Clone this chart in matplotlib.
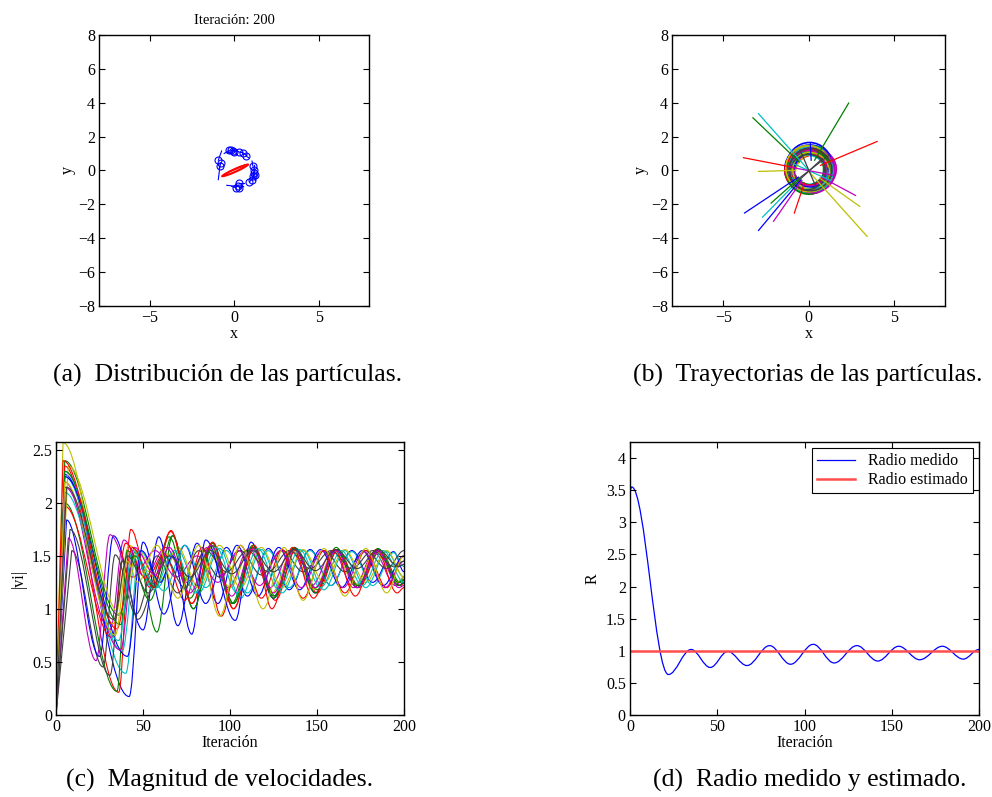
import matplotlib
matplotlib.use("Agg")
import matplotlib.pyplot as plt
from matplotlib.path import Path
from matplotlib.patches import PathPatch, Ellipse

plt.rcParams["font.family"] = ["Liberation Serif", "DejaVu Serif"]

# MATLAB default line colour order
COLORS = [(0, 0, 1), (0, 0.5, 0), (1, 0, 0), (0, 0.75, 0.75),
          (0.75, 0, 0.75), (0.75, 0.75, 0), (0.25, 0.25, 0.25)]

# ---- (a) particle positions at iteration 200 ----
part_x = [-0.95, -0.85, -0.30, -0.20, -0.10, 0.30, 0.50, 0.70, 1.10, 1.15, 1.15,
          1.12, 1.05, 0.90, 0.25, 0.10, 0.30, 0.20, -0.80, 1.20, 0.00]
part_y = [0.60, 0.25, 1.18, 1.20, 1.17, 1.08, 1.00, 0.85, 0.25, 0.05, -0.15,
          -0.35, -0.55, -0.68, -0.75, -1.02, -1.05, -0.95, 0.45, -0.25, 1.10]
tail_x = [-0.75, -0.95, -0.60, 0.10, 0.25, 0.50, 0.75, 0.85, 1.05, 1.20, 1.20,
          1.18, 1.15, 1.05, 0.60, -0.15, 0.55, -0.45, -0.90, 1.25, -0.45]
tail_y = [1.15, -0.55, 1.00, 1.15, 1.12, 1.05, 0.90, 0.75, 0.55, 0.30, 0.10,
          -0.05, -0.30, -0.50, -0.75, -0.95, -0.95, -0.88, 0.10, -0.60, 1.05]
# red estimate: elongated loops (center x, center y, length, width, angle)
est_cx = [0.05, 0.08, 0.00]
est_cy = [0.00, 0.02, -0.03]
est_len = [1.75, 1.60, 1.50]
est_wid = [0.22, 0.14, 0.10]
est_ang = [24, 25, 23]

# ---- (b) trajectories: start point, end of the straight run, two orbit loops ----
start_x = [-3.76, 2.35, 4.02, -2.94, 2.75, 3.43, 1.20, -2.94, -3.27, -3.82, -2.70,
           -2.06, -2.94, -1.00, 0.10, -2.20, -0.84, 1.30, 1.50, 3.00, -0.50]
start_y = [-2.52, 3.98, 1.71, 3.35, -1.48, -3.90, 0.90, -3.55, 3.11, 0.75, -2.76,
           -3.01, -0.06, -1.00, 1.58, -1.93, -2.52, -0.60, -0.30, -2.13, 1.20]
turn_x = [-0.60, 0.35, 0.70, 0.10, 0.75, 0.00, -0.60, -0.45, -0.55, -0.75, -0.50,
          -0.40, -0.80, 0.80, 0.15, -0.55, -0.25, -0.90, -1.10, 0.65, 0.40]
turn_y = [-0.40, 0.60, 0.30, -0.10, -0.40, -0.05, -0.50, -0.55, 0.50, 0.15, -0.50,
          -0.60, 0.00, 0.70, 0.60, -0.45, -0.75, 0.40, 0.20, -0.45, -0.90]
orb_cx = [0.05, 0.10, 0.00, 0.15, 0.20, 0.05, 0.10, -0.05, 0.15, 0.00, 0.10,
          0.25, 0.05, 0.10, 0.05, 0.00, 0.10, 0.15, 0.20, 0.00, 0.10]
orb_cy = [0.10, -0.05, 0.00, 0.10, -0.05, 0.05, 0.00, -0.05, 0.15, 0.05, 0.00,
          0.05, 0.10, 0.00, 0.20, -0.10, 0.00, 0.05, 0.00, 0.10, 0.05]
orb_w = [2.90, 2.60, 2.70, 2.65, 2.80, 2.75, 2.50, 2.55, 2.60, 2.80, 2.70,
         2.75, 2.50, 2.40, 2.70, 2.60, 2.85, 2.60, 2.70, 2.65, 2.50]
orb_h = [2.80, 2.65, 2.50, 2.70, 2.55, 2.60, 2.40, 2.70, 2.55, 2.65, 2.75,
         2.50, 2.60, 2.45, 2.90, 2.60, 2.55, 2.70, 2.60, 2.75, 2.50]
orb_ang = [10, -20, 30, 0, 45, -35, 15, 60, -10, 20, -45, 5, 35, -25, 0, 50, -15, 25, -40, 30, 10]
orb2_cx = [-0.10, 0.25, 0.15, -0.05, 0.05, 0.20, -0.05, 0.10, -0.10, 0.20, -0.05,
           0.10, 0.25, -0.10, 0.15, 0.20, -0.05, 0.00, 0.05, 0.15, -0.05]
orb2_cy = [-0.10, 0.15, -0.15, 0.00, 0.15, -0.10, 0.15, 0.10, -0.05, -0.10, 0.15,
           -0.10, -0.05, 0.15, 0.05, 0.10, 0.15, -0.10, 0.15, -0.05, -0.10]
orb2_w = [2.00, 2.30, 1.90, 2.20, 1.95, 2.45, 2.15, 1.90, 2.25, 1.95, 2.05,
          1.90, 2.20, 2.10, 1.95, 2.20, 2.00, 2.25, 1.90, 2.30, 2.15]
orb2_h = [2.15, 1.95, 2.20, 2.00, 2.25, 2.20, 2.00, 2.15, 1.90, 2.20, 1.95,
          2.20, 1.95, 2.05, 2.10, 1.90, 2.20, 1.95, 2.15, 2.10, 2.05]
orb2_ang = [-30, 40, -5, 55, -20, 15, -50, 25, 70, -60, 10, -15, 50, 30, -40, -5, 65, -30, 20, -55, 40]

# ---- (c) speed magnitude, extrema read per particle (iteration, |vi|) ----
speed_t = [
    [0, 5, 42, 50, 62, 74, 86, 98, 110, 122, 134, 146, 158, 170, 182, 194, 200],
    [0, 5, 36, 46, 58, 67, 79, 90, 102, 114, 126, 138, 150, 162, 174, 186, 198, 200],
    [0, 5, 36, 43, 54, 66, 78, 90, 102, 114, 126, 138, 150, 162, 174, 186, 198, 200],
    [0, 5, 40, 48, 62, 74, 86, 98, 110, 122, 134, 146, 158, 170, 182, 194, 200],
    [0, 5, 31, 39, 51, 63, 75, 87, 99, 111, 123, 135, 147, 159, 171, 183, 195, 200],
    [0, 4, 33, 42, 54, 64, 76, 88, 100, 112, 124, 136, 148, 160, 172, 184, 196, 200],
    [0, 9, 27, 34, 46, 58, 70, 82, 94, 106, 118, 130, 142, 154, 166, 178, 190, 200],
    [0, 6, 25, 33, 50, 59, 70, 81, 93, 104, 116, 128, 140, 152, 164, 176, 188, 200],
    [0, 5, 35, 41, 54, 65, 77, 89, 101, 113, 125, 137, 149, 161, 173, 185, 197, 200],
    [0, 5, 32, 40, 52, 62, 74, 84, 95, 106, 118, 130, 142, 154, 166, 178, 190, 200],
    [0, 5, 38, 46, 58, 70, 82, 94, 106, 118, 130, 142, 154, 166, 178, 190, 200],
    [0, 7, 23, 31, 44, 57, 69, 81, 93, 105, 117, 129, 141, 153, 165, 177, 189, 200],
    [0, 7, 37, 47, 59, 70, 82, 94, 106, 118, 130, 142, 154, 166, 178, 190, 200],
    [0, 8, 31, 38, 47, 62, 74, 86, 98, 110, 122, 134, 146, 158, 170, 182, 194, 200],
    [0, 5, 41, 49, 60, 67, 78, 86, 103, 112, 125, 137, 149, 161, 173, 185, 197, 200],
    [0, 5, 37, 45, 57, 67, 79, 90, 102, 113, 125, 137, 149, 161, 173, 185, 197, 200],
    [0, 4, 35, 44, 56, 66, 78, 90, 102, 114, 124, 136, 148, 160, 172, 184, 196, 200],
    [0, 5, 36, 44, 56, 68, 80, 92, 104, 116, 128, 140, 152, 164, 176, 188, 200],
    [0, 5, 37, 45, 57, 65, 77, 89, 101, 113, 125, 137, 149, 161, 173, 185, 197, 200],
    [0, 5, 34, 41, 47, 58, 70, 82, 94, 106, 119, 131, 142, 154, 166, 178, 190, 200],
    [0, 6, 33, 41, 53, 65, 77, 89, 101, 113, 125, 137, 149, 161, 173, 185, 197, 200],
]
speed_v = [
    [0, 2.27, 0.17, 1.63, 0.95, 1.60, 1.05, 1.58, 1.12, 1.57, 1.18, 1.56, 1.22, 1.55, 1.25, 1.54, 1.35],
    [0, 2.40, 0.94, 1.55, 0.78, 1.69, 1.00, 1.60, 1.05, 1.58, 1.12, 1.57, 1.18, 1.56, 1.22, 1.55, 1.25, 1.27],
    [0, 2.35, 0.21, 1.75, 1.20, 1.73, 1.05, 1.62, 1.00, 1.58, 1.08, 1.56, 1.15, 1.55, 1.20, 1.54, 1.22, 1.24],
    [0, 2.30, 0.39, 1.55, 1.17, 1.60, 1.20, 1.55, 1.15, 1.55, 1.20, 1.55, 1.22, 1.54, 1.22, 1.53, 1.40],
    [0, 2.20, 0.80, 1.65, 1.30, 1.58, 1.25, 1.58, 1.20, 1.57, 1.20, 1.55, 1.22, 1.55, 1.20, 1.53, 1.22, 1.30],
    [0, 2.57, 0.86, 1.60, 1.35, 1.52, 1.28, 1.58, 1.20, 1.58, 1.15, 1.55, 1.18, 1.55, 1.22, 1.55, 1.25, 1.30],
    [0, 1.55, 0.45, 1.51, 0.95, 1.50, 1.15, 1.55, 1.30, 1.55, 1.32, 1.55, 1.35, 1.55, 1.35, 1.55, 1.38, 1.55],
    [0, 1.84, 0.55, 1.69, 0.80, 1.68, 0.84, 1.62, 1.05, 1.60, 1.12, 1.58, 1.18, 1.56, 1.20, 1.55, 1.22, 1.50],
    [0, 2.00, 0.22, 1.55, 1.08, 1.68, 1.10, 1.60, 1.05, 1.58, 1.12, 1.57, 1.20, 1.56, 1.22, 1.55, 1.25, 1.28],
    [0, 1.97, 0.73, 1.62, 1.28, 1.52, 1.08, 1.58, 0.93, 1.60, 1.10, 1.56, 1.10, 1.55, 1.15, 1.55, 1.20, 1.50],
    [0, 2.25, 0.60, 1.50, 1.20, 1.55, 1.15, 1.57, 1.10, 1.56, 1.15, 1.55, 1.18, 1.55, 1.20, 1.54, 1.30],
    [0, 1.67, 0.51, 1.70, 1.30, 1.55, 1.30, 1.50, 1.25, 1.55, 1.22, 1.55, 1.20, 1.55, 1.20, 1.54, 1.20, 1.45],
    [0, 2.35, 0.95, 1.55, 1.25, 1.58, 1.20, 1.60, 1.20, 1.58, 1.20, 1.56, 1.25, 1.56, 1.25, 1.55, 1.30],
    [0, 1.75, 0.37, 1.45, 0.90, 1.50, 1.20, 1.55, 1.35, 1.55, 1.35, 1.55, 1.38, 1.55, 1.38, 1.55, 1.40, 1.45],
    [0, 2.25, 0.55, 1.55, 1.25, 1.50, 0.76, 1.65, 0.89, 1.63, 1.10, 1.58, 1.15, 1.56, 1.20, 1.55, 1.22, 1.25],
    [0, 2.30, 0.85, 1.50, 1.20, 1.69, 1.00, 1.62, 1.05, 1.60, 1.10, 1.58, 1.15, 1.58, 1.20, 1.57, 1.22, 1.25],
    [0, 2.40, 0.81, 1.58, 1.20, 1.74, 1.05, 1.63, 1.00, 1.60, 1.00, 1.58, 1.10, 1.56, 1.12, 1.56, 1.15, 1.20],
    [0, 2.10, 0.70, 1.55, 1.18, 1.55, 1.15, 1.58, 1.15, 1.57, 1.18, 1.56, 1.20, 1.55, 1.22, 1.55, 1.25],
    [0, 2.15, 0.61, 1.58, 1.32, 1.58, 1.15, 1.60, 1.12, 1.57, 1.15, 1.56, 1.20, 1.55, 1.20, 1.55, 1.20, 1.22],
    [0, 2.20, 0.75, 1.45, 1.25, 1.60, 1.10, 1.60, 0.93, 1.60, 1.00, 1.58, 1.08, 1.57, 1.12, 1.57, 1.15, 1.50],
    [0, 2.15, 0.90, 1.50, 1.15, 1.50, 1.30, 1.55, 1.33, 1.55, 1.35, 1.56, 1.36, 1.56, 1.38, 1.56, 1.40, 1.42],
]

# ---- (d) measured radius, extrema (iteration, R) ----
radius_t = [0, 1, 22, 35, 46, 56, 67, 80, 92, 105, 117, 130, 142, 154, 166, 179, 191, 200]
radius_v = [3.50, 3.55, 0.63, 1.02, 0.74, 0.99, 0.77, 1.08, 0.79, 1.10, 0.81, 1.08, 0.84, 1.07,
            0.86, 1.07, 0.87, 1.02]
radius_est = 1.0

TICK_FS = 11.5
CAP_FS = 18.5


def matlab_axes(ax):
    ax.tick_params(direction="in", top=True, right=True, length=4, width=0.8,
                   labelsize=TICK_FS, pad=3)
    for s in ax.spines.values():
        s.set_linewidth(1.0)


def smooth_path(ts, vs, straight_first=False):
    verts = [(ts[0], vs[0])]
    codes = [Path.MOVETO]
    for i in range(1, len(ts)):
        t0, v0, t1, v1 = ts[i - 1], vs[i - 1], ts[i], vs[i]
        if i == 1 and straight_first:
            verts.append((t1, v1))
            codes.append(Path.LINETO)
            continue
        h = 0.36 * (t1 - t0)
        verts += [(t0 + h, v0), (t1 - h, v1), (t1, v1)]
        codes += [Path.CURVE4] * 3
    return Path(verts, codes)


def panel_a(ax):
    for tx, ty, px, py in zip(tail_x, tail_y, part_x, part_y):
        ax.plot([tx, px], [ty, py], color="b", lw=0.8)
    ax.plot(part_x, part_y, "o", ls="none", mfc="none", mec="b", ms=5, mew=0.8)
    for cx, cy, l, w, a in zip(est_cx, est_cy, est_len, est_wid, est_ang):
        ax.add_patch(Ellipse((cx, cy), l, w, angle=a, fill=False, ec="r", lw=0.8))
    ax.set_xlim(-8, 8)
    ax.set_ylim(-8, 8)
    ax.set_xticks([-5, 0, 5])
    ax.set_yticks(range(-8, 9, 2))
    ax.set_xlabel("x", fontsize=TICK_FS, labelpad=0)
    ax.set_ylabel("y", fontsize=TICK_FS, labelpad=2)
    ax.set_title("Iteración: 200", fontsize=10.5, pad=8)
    matlab_axes(ax)


def panel_b(ax):
    for i in range(len(start_x)):
        c = COLORS[i % 7]
        ax.plot([start_x[i], turn_x[i]], [start_y[i], turn_y[i]], color=c, lw=0.9)
        ax.add_patch(Ellipse((orb2_cx[i], orb2_cy[i]), orb2_w[i], orb2_h[i],
                             angle=orb2_ang[i], fill=False, ec=c, lw=1.0))
        ax.add_patch(Ellipse((orb_cx[i], orb_cy[i]), orb_w[i], orb_h[i], angle=orb_ang[i],
                             fill=False, ec=c, lw=1.2))
    ax.set_xlim(-8, 8)
    ax.set_ylim(-8, 8)
    ax.set_xticks([-5, 0, 5])
    ax.set_yticks(range(-8, 9, 2))
    ax.set_xlabel("x", fontsize=TICK_FS, labelpad=0)
    ax.set_ylabel("y", fontsize=TICK_FS, labelpad=2)
    matlab_axes(ax)


def panel_c(ax):
    for i, (ts, vs) in enumerate(zip(speed_t, speed_v)):
        ax.add_patch(PathPatch(smooth_path(ts, vs, straight_first=True), fill=False,
                               ec=COLORS[i % 7], lw=0.8))
    ax.set_xlim(0, 200)
    ax.set_ylim(0, 2.58)
    ax.set_xticks([0, 50, 100, 150, 200])
    ax.set_yticks([0, 0.5, 1, 1.5, 2, 2.5])
    ax.set_yticklabels(["0", "0.5", "1", "1.5", "2", "2.5"])
    ax.set_xlabel("Iteración", fontsize=TICK_FS, labelpad=0)
    ax.set_ylabel("|vi|", fontsize=TICK_FS, labelpad=4)
    matlab_axes(ax)


def panel_d(ax):
    ax.add_patch(PathPatch(smooth_path(radius_t, radius_v), fill=False, ec="b", lw=0.9))
    ax.plot([], [], color="b", lw=0.9, label="Radio medido")
    ax.plot([0, 200], [radius_est, radius_est], color=(1, 0.3, 0.3), lw=1.8,
            label="Radio estimado")
    ax.set_xlim(0, 200)
    ax.set_ylim(0, 4.25)
    ax.set_xticks([0, 50, 100, 150, 200])
    ax.set_yticks([0, 0.5, 1, 1.5, 2, 2.5, 3, 3.5, 4])
    ax.set_yticklabels(["0", "0.5", "1", "1.5", "2", "2.5", "3", "3.5", "4"])
    ax.set_xlabel("Iteración", fontsize=TICK_FS, labelpad=0)
    ax.set_ylabel("R", fontsize=TICK_FS, labelpad=4)
    leg = ax.legend(loc="upper right", fontsize=TICK_FS, fancybox=False, framealpha=1,
                    edgecolor="k", borderaxespad=0.4, handlelength=2.4, borderpad=0.3,
                    labelspacing=0.2)
    leg.get_frame().set_linewidth(0.8)
    matlab_axes(ax)


def main() -> None:
    fig = plt.figure(figsize=(9.92, 7.97), dpi=100)
    ax_a = fig.add_axes([0.1001, 0.6164, 0.2722, 0.3396])
    ax_b = fig.add_axes([0.6777, 0.6164, 0.2749, 0.3396])
    ax_c = fig.add_axes([0.0565, 0.1035, 0.3508, 0.3423])
    ax_d = fig.add_axes([0.6351, 0.1029, 0.3518, 0.3425])
    panel_a(ax_a)
    panel_b(ax_b)
    panel_c(ax_c)
    panel_d(ax_d)

    fig.text(228 / 992, 1 - 375 / 797, "(a)  Distribución de las partículas.",
             ha="center", va="center", fontsize=CAP_FS)
    fig.text(808 / 992, 1 - 375 / 797, "(b)  Trayectorias de las partículas.",
             ha="center", va="center", fontsize=CAP_FS)
    fig.text(220 / 992, 1 - 780 / 797, "(c)  Magnitud de velocidades.",
             ha="center", va="center", fontsize=CAP_FS)
    fig.text(810 / 992, 1 - 780 / 797, "(d)  Radio medido y estimado.",
             ha="center", va="center", fontsize=CAP_FS)

    fig.savefig("out.png", dpi=100)
    plt.close(fig)


if __name__ == "__main__":
    main()
